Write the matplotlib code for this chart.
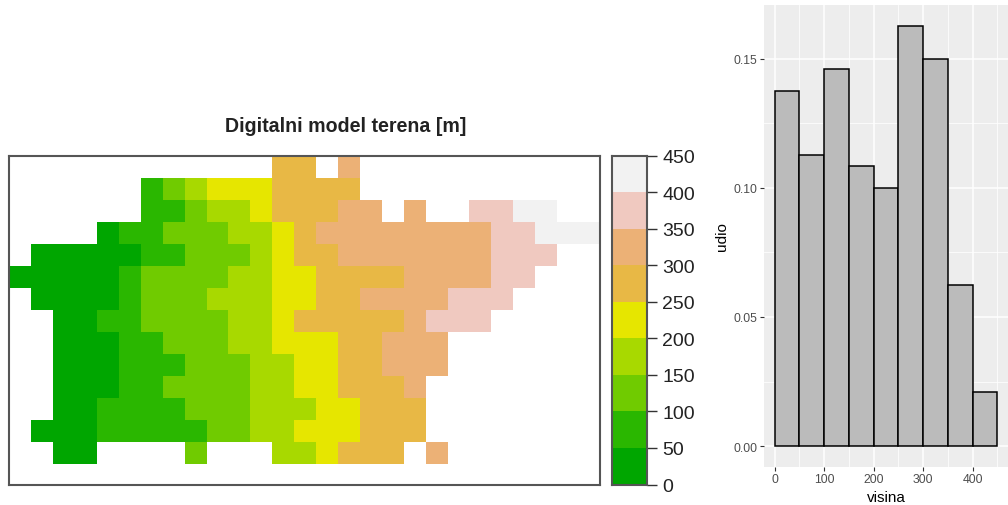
import numpy as np
import matplotlib
matplotlib.use('Agg')
import matplotlib.pyplot as plt
from matplotlib.colors import ListedColormap, BoundaryNorm

plt.rcParams['font.family'] = ['Liberation Sans', 'DejaVu Sans']

W = 1008
H = 506

# razredi visine po celijama (0 = nema podataka, 1 = 0-50, 2 = 50-100, ...)
dem_rows = [
    [0,0,0,0,0,0,0,0,0,0,0,0,6,6,0,7,0,0,0,0,0,0,0,0,0,0,0],
    [0,0,0,0,0,0,2,3,4,5,5,5,6,6,6,6,0,0,0,0,0,0,0,0,0,0,0],
    [0,0,0,0,0,0,2,2,3,4,4,5,6,6,6,7,7,0,7,0,0,8,8,9,9,0,0],
    [0,0,0,0,1,2,2,3,3,3,4,4,5,6,7,7,7,7,7,7,7,7,8,8,9,9,9],
    [0,1,1,1,1,1,2,2,3,3,3,4,5,6,6,7,7,7,7,7,7,7,8,8,8,0,0],
    [1,1,1,1,1,2,3,3,3,3,4,4,5,5,6,6,6,6,7,7,7,7,8,8,0,0,0],
    [0,1,1,1,1,2,3,3,3,4,4,4,5,5,6,6,7,7,7,7,8,8,8,0,0,0,0],
    [0,0,1,1,2,2,3,3,3,3,4,4,5,6,6,6,6,6,7,8,8,8,0,0,0,0,0],
    [0,0,1,1,1,2,2,3,3,3,4,4,5,5,5,6,6,7,7,7,0,0,0,0,0,0,0],
    [0,0,1,1,1,2,2,2,3,3,3,4,4,5,5,6,6,7,7,7,0,0,0,0,0,0,0],
    [0,0,1,1,1,2,2,3,3,3,3,4,4,5,5,6,6,6,7,0,0,0,0,0,0,0,0],
    [0,0,1,1,2,2,2,2,3,3,3,4,4,4,5,5,6,6,6,0,0,0,0,0,0,0,0],
    [0,1,1,1,2,2,2,2,2,3,3,4,4,5,5,5,6,6,6,0,0,0,0,0,0,0,0],
    [0,0,1,1,0,0,0,0,3,0,0,0,4,4,5,6,6,6,0,7,0,0,0,0,0,0,0],
    [0,0,0,0,0,0,0,0,0,0,0,0,0,0,0,0,0,0,0,0,0,0,0,0,0,0,0],
]
breaks = [0, 50, 100, 150, 200, 250, 300, 350, 400, 450]
class_colors = ['#00A600', '#2AB700', '#70CB00', '#A8D900', '#E6E600',
                '#E8B845', '#ECB176', '#F0C9C0', '#F2F2F2']

# histogram
bin_edges = [0, 50, 100, 150, 200, 250, 300, 350, 400, 450]
shares = [33/240, 27/240, 35/240, 26/240, 24/240, 39/240, 36/240, 15/240, 5/240]

frame_color = '#555555'


def px_axes(left, top, right, bottom):
    return fig.add_axes([left/W, 1 - bottom/H, (right-left)/W, (bottom-top)/H])


fig = plt.figure(figsize=(W/100, H/100), dpi=100)
cmap = ListedColormap(class_colors)
norm = BoundaryNorm(breaks, cmap.N)

# karta
ax = px_axes(9, 156.5, 600, 485.5)
cells = np.array(dem_rows, dtype=float)
mids = np.where(cells > 0, cells * 50 - 25, np.nan)
ax.pcolormesh(np.arange(28), np.arange(16), np.ma.masked_invalid(mids),
              cmap=cmap, norm=norm)
ax.set_xlim(-0.02, 26.96)
ax.set_ylim(14.92, 0)
ax.set_xticks([])
ax.set_yticks([])
for s in ax.spines.values():
    s.set_linewidth(1.5)
    s.set_color(frame_color)
fig.text(346/W, 1 - 127/H, 'Digitalni model terena [m]', ha='center', va='center',
         fontsize=14.1, fontweight='bold', color='#222222')

# legenda
lax = px_axes(612, 156.5, 647, 485.5)
lax.pcolormesh([0, 1], breaks, np.array(breaks[:-1]).reshape(-1, 1) + 25,
               cmap=cmap, norm=norm)
lax.set_xlim(0, 1)
lax.set_ylim(0, 450)
lax.set_xticks([])
lax.yaxis.tick_right()
lax.set_yticks(breaks)
lax.tick_params(axis='y', length=7, width=1, color='#333333', labelsize=14,
                labelcolor='#222222', pad=4)
for s in lax.spines.values():
    s.set_linewidth(1.5)
    s.set_color(frame_color)

# histogram
hax = px_axes(764, 6, 1008, 467.5)
hax.set_facecolor('#EDEDED')
hax.bar(bin_edges[:-1], shares, width=50, align='edge', color='#BBBBBB',
        edgecolor='black', linewidth=1.1, zorder=3)
hax.set_xlim(-21.7, 471.7)
hax.set_ylim(-0.00785, 0.1707)
hax.set_xticks([0, 100, 200, 300, 400])
hax.set_xticks([50, 150, 250, 350, 450], minor=True)
hax.set_yticks([0, 0.05, 0.10, 0.15])
hax.set_yticklabels(['0.00', '0.05', '0.10', '0.15'])
hax.set_yticks([0.025, 0.075, 0.125], minor=True)
hax.grid(which='major', color='white', linewidth=1.1, zorder=1)
hax.grid(which='minor', color='white', linewidth=0.55, zorder=1)
hax.set_axisbelow(True)
hax.tick_params(which='major', length=3, width=0.8, color='#333333',
                labelsize=8.8, labelcolor='#4D4D4D', pad=2)
hax.tick_params(which='minor', length=0)
for s in hax.spines.values():
    s.set_visible(False)
hax.set_xlabel('visina', fontsize=11, labelpad=3)
hax.set_ylabel('udio', fontsize=11, labelpad=3)

plt.savefig('out.png', dpi=100)
